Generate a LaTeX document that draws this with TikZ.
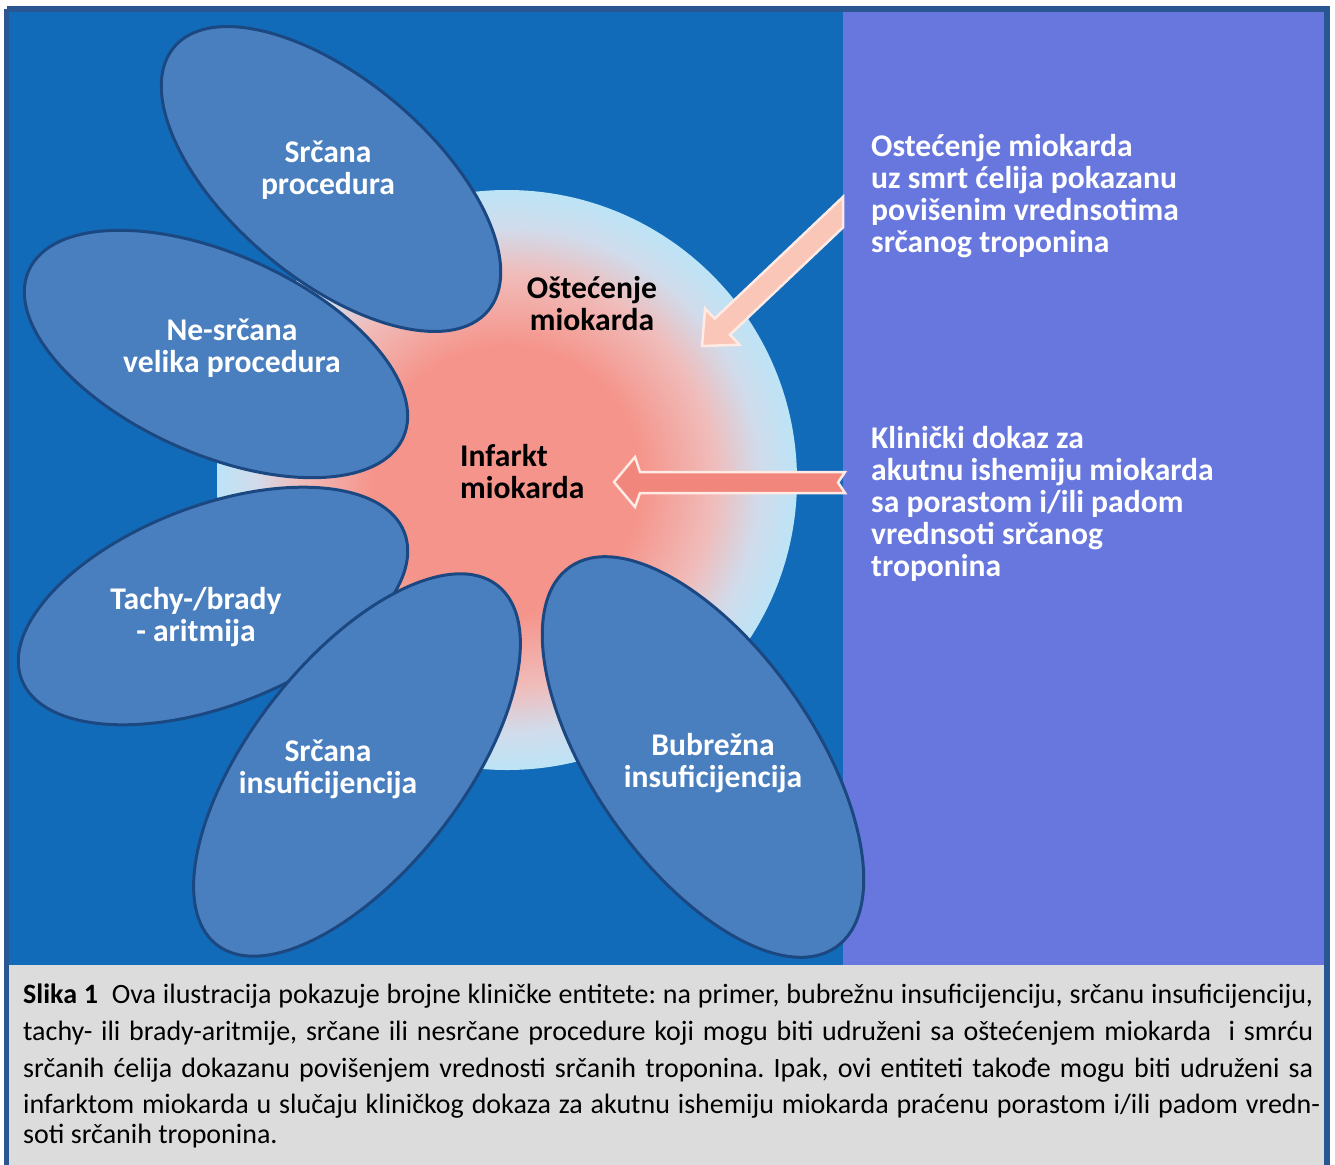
\documentclass[tikz,border=0pt]{standalone}
\usepackage{fontspec}
\setmainfont{Carlito}
\frenchspacing
\definecolor{bgblue}{RGB}{18,107,185}
\definecolor{panelpurple}{RGB}{103,119,222}
\definecolor{framecol}{RGB}{42,86,146}
\definecolor{capgray}{RGB}{220,220,220}
\definecolor{petalfill}{RGB}{74,127,191}
\definecolor{petaledge}{RGB}{28,72,130}
\definecolor{salm}{RGB}{245,148,138}
\definecolor{pinkmid}{RGB}{240,188,186}
\definecolor{bluegrey}{RGB}{208,220,236}
\definecolor{lblue}{RGB}{188,228,246}
\definecolor{arrowpeach}{RGB}{250,198,184}
\definecolor{arrowsalmon}{RGB}{240,134,124}
\definecolor{arrowedge}{RGB}{255,234,228}
\pgfdeclareradialshading{heartshade}{\pgfpoint{0bp}{0bp}}{color(0bp)=(salm); color(11.5bp)=(salm); color(17.8bp)=(pinkmid); color(21.8bp)=(bluegrey); color(25bp)=(lblue); color(50bp)=(lblue)}
\tikzset{
  petal/.style={fill=petalfill, draw=petaledge, line width=3pt},
  wlbl/.style={text=white, font=\bfseries\fontsize{31.6}{32}\selectfont, inner sep=0pt, anchor=base},
  blbl/.style={text=black, font=\bfseries\fontsize{31.6}{32}\selectfont, inner sep=0pt, anchor=base},
  rlbl/.style={text=white, font=\bfseries\fontsize{31.6}{32}\selectfont, inner sep=0pt, anchor=base west},
  capline/.style={text=black, font=\fontsize{28}{37}\selectfont, inner sep=0pt, anchor=base west},
  blockarrow/.style={line width=2.5pt, draw=arrowedge, line join=miter}
}
\begin{document}
\begin{tikzpicture}[x=1pt, y=-1pt]
\useasboundingbox (0,0) rectangle (1335,1164);
\fill[white] (0,0) rectangle (1335,1164);
% panels
\fill[bgblue] (9,12) rectangle (843,965);
\fill[panelpurple] (843,12) rectangle (1324,965);
\fill[capgray] (9,965) rectangle (1324,1170);
\draw[framecol, line width=5.5pt] (6.5,9) -- (1327,9) -- (1327,1175);
\draw[framecol, line width=5.5pt] (6.5,9) -- (6.5,1175);
% central circle
\path[shading=heartshade] (507,480) circle [radius=290pt];
% petals
\path[petal, shift={(331,179)}, rotate=-40] (0,0) ellipse [x radius=205pt, y radius=100pt];
\path[petal, shift={(216,354)}, rotate=-24] (0,0) ellipse [x radius=205pt, y radius=100pt];
\path[petal, shift={(213,606)}, rotate=21] (0,0) ellipse [x radius=205pt, y radius=100pt];
\path[petal, shift={(357,765)}, rotate=52] (0,0) ellipse [x radius=228pt, y radius=106pt];
\path[petal, shift={(703,757)}, rotate=-55] (0,0) ellipse [x radius=232pt, y radius=110pt];
% block arrows
\path[blockarrow, fill=arrowpeach] (843,196.9) -- (714.7,318.7) -- (705.1,308.6) -- (702,346)
  -- (739.5,344.8) -- (729.9,334.7) -- (843,227.4) -- cycle;
\path[blockarrow, fill=arrowsalmon] (845,472) -- (640,472) -- (635,457) -- (614,482)
  -- (635,507) -- (640,493) -- (845,493) -- (838,482.5) -- cycle;
% petal labels
\node[wlbl] (p1a) at (328,162) {Srčana};
\node[wlbl] (p1b) at (328,194) {procedura};
\node[wlbl] (p2a) at (232,340) {Ne-srčana};
\node[wlbl] (p2b) at (232,372) {velika procedura};
\node[wlbl] (p3a) at (196,609) {Tachy-/brady};
\node[wlbl] (p3b) at (196,641) {- aritmija};
\node[wlbl] (p4a) at (328,761) {Srčana};
\node[wlbl] (p4b) at (328,793) {insuficijencija};
\node[wlbl] (p5a) at (713,755) {Bubrežna};
\node[wlbl] (p5b) at (713,787) {insuficijencija};
% centre labels
\node[blbl] (c1a) at (592,298) {Oštećenje};
\node[blbl] (c1b) at (592,330) {miokarda};
\node[blbl, anchor=base west] (c2a) at (460,466) {Infarkt};
\node[blbl, anchor=base west] (c2b) at (460,498) {miokarda};
% right panel texts
\node[rlbl] (r1a) at (871,156) {Ostećenje miokarda};
\node[rlbl] (r1b) at (871,188) {uz smrt ćelija pokazanu};
\node[rlbl] (r1c) at (871,220) {povišenim vrednsotima};
\node[rlbl] (r1d) at (871,252) {srčanog troponina};
\node[rlbl] (r2a) at (871,448) {Klinički dokaz za};
\node[rlbl] (r2b) at (871,480) {akutnu ishemiju miokarda};
\node[rlbl] (r2c) at (871,512) {sa porastom i/ili padom};
\node[rlbl] (r2d) at (871,544) {vrednsoti srčanog};
\node[rlbl] (r2e) at (871,576) {troponina};
% caption
\node[capline] (cap1) at (23,1003) {\makebox[1290pt][s]{\textbf{Slika 1}\ \ Ova ilustracija pokazuje brojne kliničke entitete: na primer, bubrežnu insuficijenciju, srčanu insuficijenciju,}};
\node[capline] (cap2) at (23,1040) {\makebox[1290pt][s]{tachy- ili brady-aritmije, srčane ili nesrčane procedure koji mogu biti udruženi sa oštećenjem miokarda\ \ i smrću}};
\node[capline] (cap3) at (23,1077) {\makebox[1290pt][s]{srčanih ćelija dokazanu povišenjem vrednosti srčanih troponina. Ipak, ovi entiteti takođe mogu biti udruženi sa}};
\node[capline] (cap4) at (23,1113) {\makebox[1297pt][s]{infarktom miokarda u slučaju kliničkog dokaza za akutnu ishemiju miokarda praćenu porastom i/ili padom vredn-}};
\node[capline] (cap5) at (23,1143) {soti srčanih troponina.};
\end{tikzpicture}
\end{document}
